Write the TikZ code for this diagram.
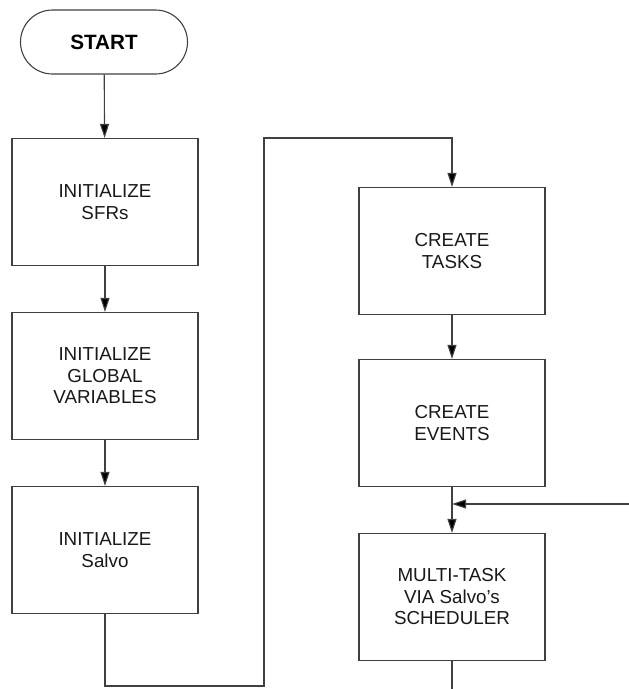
\documentclass[tikz,border=0pt]{standalone}
\usepackage{fontspec}
\setmainfont{Liberation Sans}
\usetikzlibrary{arrows.meta}
\begin{document}
\begin{tikzpicture}[x=1pt,y=-1pt,
  line/.style={draw=black!75,line width=1.1pt},
  arr/.style={line,-{Triangle[length=14pt,width=9pt,fill=black]}},
  procbox/.style={line,fill=white,rectangle,minimum width=186pt,minimum height=127pt,inner sep=0pt,
    align=center,font=\fontsize{18.8}{21.5}\selectfont,text=black!90},
  termbox/.style={line,rectangle,rounded corners=32pt,minimum width=167pt,minimum height=64pt,inner sep=0pt,
    font=\fontsize{20.7}{24}\selectfont\bfseries,text=black}]
\useasboundingbox (0,0) rectangle (629,689);
\node[termbox] (start) at (104,42) {START};
\node[procbox] (b1) at (105,202) {INITIALIZE\\SFRs};
\node[procbox] (b2) at (105,376) {INITIALIZE\\GLOBAL\\VARIABLES};
\node[procbox] (b3) at (105,550) {INITIALIZE\\Salvo};
\node[procbox] (t1) at (452,251) {CREATE\\TASKS};
\node[procbox] (t2) at (452,423) {CREATE\\EVENTS};
\node[procbox] (t3) at (452,597) {MULTI-TASK\\VIA Salvo’s\\SCHEDULER};
\draw[arr] (start) -- (b1);
\draw[arr] (b1) -- (b2);
\draw[arr] (b2) -- (b3);
\coordinate (c1) at (105,686);
\coordinate (c2) at (264,686);
\coordinate (c3) at (264,138);
\coordinate (c4) at (452,138);
\draw[arr] (b3.south) -- (c1) -- (c2) -- (c3) -- (c4) -- (t1.north);
\draw[arr] (t1) -- (t2);
\draw[arr] (t2) -- (t3);
\coordinate (r) at (629,504);
\coordinate (m) at (452,504);
\draw[arr] (r) -- (m);
\coordinate (bot) at (452,689);
\draw[line] (t3.south) -- (bot);
\end{tikzpicture}
\end{document}
